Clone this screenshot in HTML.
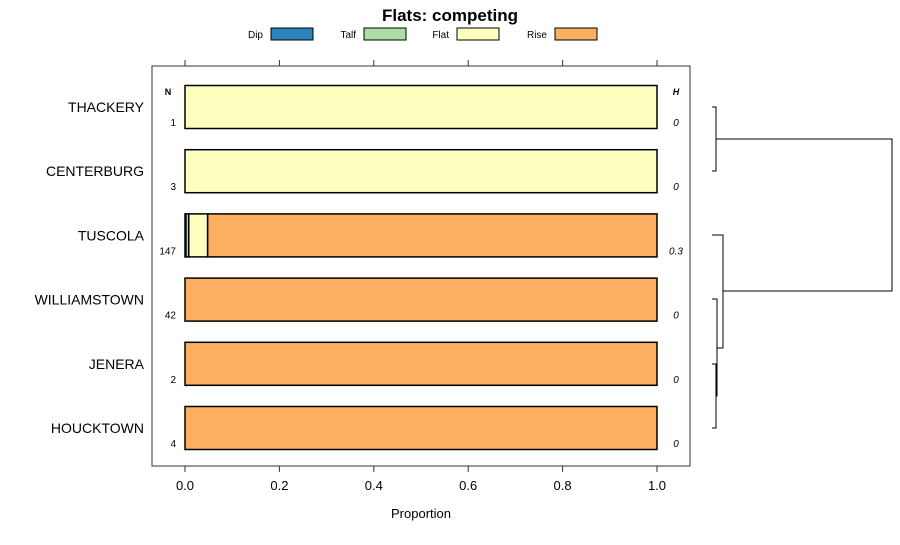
<!DOCTYPE html>
<html><head><meta charset="utf-8"><style>
body{margin:0;background:#fff;font-family:"Liberation Sans",sans-serif}
</style></head><body>
<svg width="900" height="540" xmlns="http://www.w3.org/2000/svg" font-family="Liberation Sans, sans-serif">
<text x="450" y="21" text-anchor="middle" font-size="17" font-weight="bold">Flats: competing</text>
<g id="legend"></g>
<rect x="152" y="66" width="538" height="400" fill="none" stroke="#333"/>
<g id="bars"></g>
<g id="axes"></g>
<text x="168" y="95" font-size="9" font-weight="bold" text-anchor="middle">N</text>
<text x="676" y="95" font-size="9" font-weight="bold" font-style="italic" text-anchor="middle">H</text>
<text x="421" y="518" font-size="13" text-anchor="middle">Proportion</text>
<g id="dendro" fill="none" stroke="#000" stroke-width="1"></g>
</svg>
<script>
const sites=["THACKERY","CENTERBURG","TUSCOLA","WILLIAMSTOWN","JENERA","HOUCKTOWN"];
const nVals=[1,3,147,42,2,4];
const hVals=["0","0","0.3","0","0","0"];
const dipVals=[0,0,0.002,0,0,0];
const talfVals=[0,0,0.006,0,0,0];
const flatVals=[1,1,0.04,0,0,0];
const riseVals=[0,0,0.952,1,1,1];
const cats=["Dip","Talf","Flat","Rise"];
const colors=["#2b83ba","#abdda4","#ffffbf","#fdae61"];
const ticks=[0,0.2,0.4,0.6,0.8,1];
const NS="http://www.w3.org/2000/svg";
function mk(tag,attrs,parent,txt){const e=document.createElementNS(NS,tag);for(const k in attrs)e.setAttribute(k,attrs[k]);if(txt!==undefined)e.textContent=txt;parent.appendChild(e);return e;}
const xs=v=>185+v*472;
const yc=i=>107+i*64.2;
const bars=document.getElementById('bars');
const series=[dipVals,talfVals,flatVals,riseVals];
sites.forEach((s,i)=>{
  let c=0;
  series.forEach((arr,k)=>{
    const v=arr[i]; if(v<=0)return;
    const r=mk('rect',{x:xs(c),y:yc(i)-21.5,width:xs(c+v)-xs(c),height:43,fill:colors[k],stroke:'#000','stroke-width':1.5},bars);
    
    
    c+=v;
  });
  const l=mk('text',{x:144,y:yc(i)+5,'font-size':14,'text-anchor':'end'},bars,s);
  
  
  const n=mk('text',{x:176,y:yc(i)+19,'font-size':10,'text-anchor':'end'},bars,nVals[i]);
  
  
  const h=mk('text',{x:676,y:yc(i)+19,'font-size':10,'font-style':'italic','text-anchor':'middle'},bars,hVals[i]);
  
  
});
const ax=document.getElementById('axes');
ticks.forEach(t=>{
  const a=mk('line',{x1:xs(t),x2:xs(t),y1:466,y2:472,stroke:'#333'},ax);
  
  
  const b=mk('line',{x1:xs(t),x2:xs(t),y1:60,y2:66,stroke:'#333'},ax);
  
  
  const l=mk('text',{x:xs(t),y:490,'font-size':13,'text-anchor':'middle'},ax,t.toFixed(1));
  
  
});
const lg=document.getElementById('legend');
const lx=[271,364,457,555];
cats.forEach((c,k)=>{
  const t=mk('text',{x:lx[k]-8,y:38,'font-size':10,'text-anchor':'end'},lg,c);
  
  
  const r=mk('rect',{x:lx[k],y:28,width:42,height:12,fill:colors[k],stroke:'#000'},lg);
  
  
});
const d=document.getElementById('dendro');
const paths=[
 "M712 107H716V171H712","M716 139H892V291H723",
 "M712 364H716V428H712","M712 299H717V396H716",
 "M712 235H723V348H717"
];
paths.forEach(p=>{const e=mk('path',{d:p},d);
  
  });
</script>
</body></html>
